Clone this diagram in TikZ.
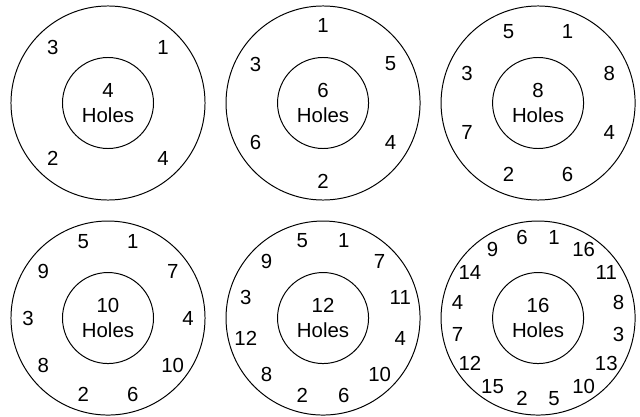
\documentclass[tikz,border=0pt]{standalone}
\usepackage{fontspec}
\setmainfont{Liberation Sans}
\usetikzlibrary{positioning}

\begin{document}
\begin{tikzpicture}[
    x=0.025cm, y=0.025cm,
    node distance=0.5cm,
    plate/.style={circle, draw, line width=0.7pt, minimum size=4.85cm, inner sep=0pt},
    bore/.style={circle, draw, line width=0.7pt, minimum size=2.275cm, inner sep=0pt, align=center, font=\fontsize{14.5}{18}\selectfont},
    hole/.style={inner sep=0pt, font=\fontsize{14.5}{16}\selectfont}
]
\useasboundingbox (0,0) rectangle (640,416);

% Plates
\node[plate] (plate4) at (108,313) {};
\node[plate, right=of plate4] (plate6) {};
\node[plate, right=of plate6] (plate8) {};
\node[plate, below=of plate4] (plate10) {};
\node[plate, right=of plate10] (plate12) {};
\node[plate, right=of plate12] (plate16) {};

% Centre bores
\node[bore] (bore4) at (plate4) {4\\Holes};
\node[bore] (bore6) at (plate6) {6\\Holes};
\node[bore] (bore8) at (plate8) {8\\Holes};
\node[bore] (bore10) at (plate10) {10\\Holes};
\node[bore] (bore12) at (plate12) {12\\Holes};
\node[bore] (bore16) at (plate16) {16\\Holes};

% Bolt hole numbers (angle/number)
\foreach \a/\n in {45/1, 315/4, 225/2, 135/3}
  \node[hole] (hole4-\n) at ([shift={(\a:78)}]plate4.center) {\n};
\foreach \a/\n in {90/1, 30/5, 330/4, 270/2, 210/6, 150/3}
  \node[hole] (hole6-\n) at ([shift={(\a:78)}]plate6.center) {\n};
\foreach \a/\n in {67.5/1, 22.5/8, 337.5/4, 292.5/6, 247.5/2, 202.5/7, 157.5/3, 112.5/5}
  \node[hole] (hole8-\n) at ([shift={(\a:77)}]plate8.center) {\n};
\foreach \a/\n in {72/1, 36/7, 0/4, 324/10, 288/6, 252/2, 216/8, 180/3, 144/9, 108/5}
  \node[hole] (hole10-\n) at ([shift={(\a:80)}]plate10.center) {\n};
\foreach \a/\n in {75/1, 45/7, 15/11, -15/4, -45/10, -75/6, 255/2, 225/8, 195/12, 165/3, 135/9, 105/5}
  \node[hole] (hole12-\n) at ([shift={(\a:80)}]plate12.center) {\n};
\foreach \a/\n in {78.75/1, 56.25/16, 33.75/11, 11.25/8, -11.25/3, -33.75/13, -56.25/10, -78.75/5,
                   258.75/2, 236.25/15, 213.75/12, 191.25/7, 168.75/4, 146.25/14, 123.75/9, 101.25/6}
  \node[hole] (hole16-\n) at ([shift={(\a:82)}]plate16.center) {\n};

\end{tikzpicture}
\end{document}
